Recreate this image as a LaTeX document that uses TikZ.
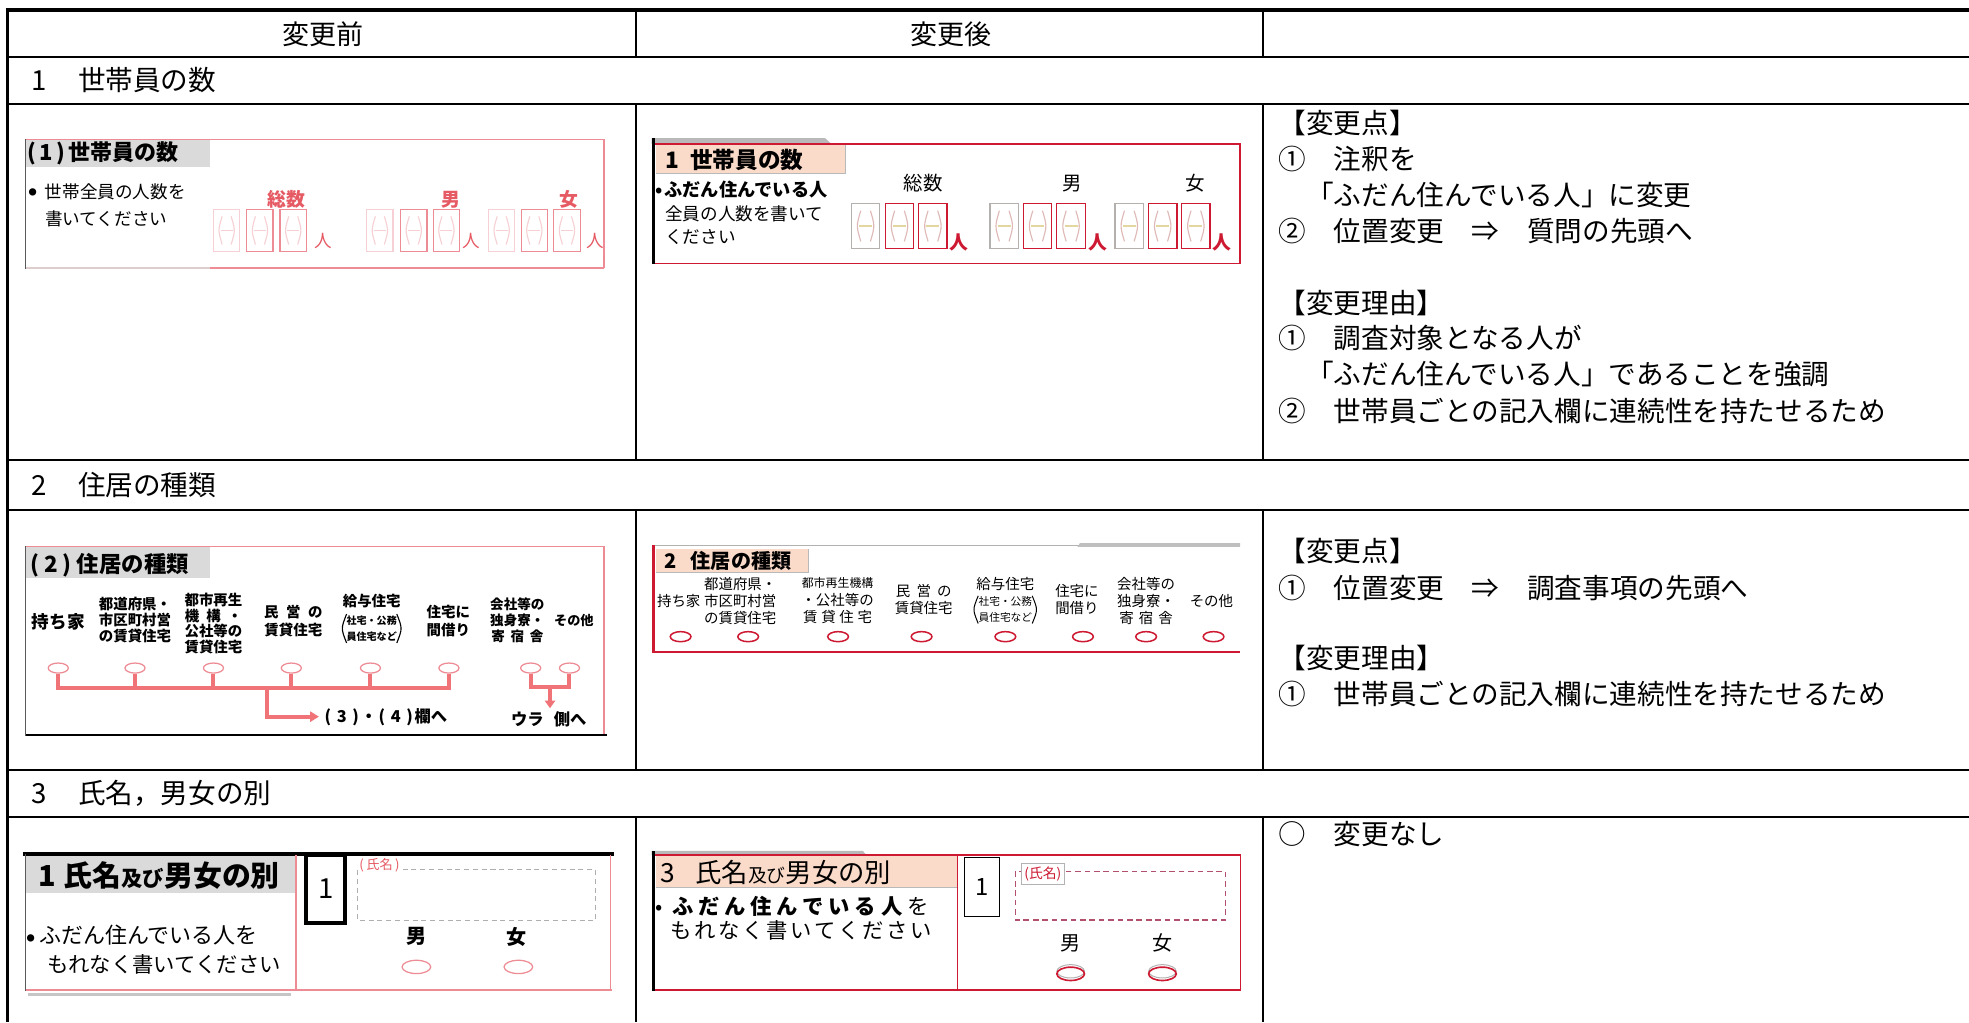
\documentclass[tikz,border=0pt]{standalone}
\usepackage{fontspec}
\setmainfont{Noto Sans CJK JP}
\usetikzlibrary{arrows.meta,shapes.geometric}
\definecolor{pkline}{RGB}{238,140,150}
\definecolor{pkdark}{RGB}{230,90,100}
\definecolor{pkconn}{RGB}{240,115,120}
\definecolor{pkfaint}{RGB}{246,208,212}
\definecolor{rdline}{RGB}{205,25,50}
\definecolor{peach}{RGB}{250,218,200}
\definecolor{hdgray}{RGB}{218,218,218}
\definecolor{boxgray}{RGB}{180,176,174}
\definecolor{glyphpk}{RGB}{222,185,182}
\definecolor{glyphyl}{RGB}{228,214,160}
\definecolor{mauve}{RGB}{178,80,110}
\definecolor{dashgray}{RGB}{175,175,175}
\definecolor{edgegray}{RGB}{90,90,90}
\definecolor{botgray}{RGB}{222,205,205}
\newcommand{\jfs}[1]{\fontsize{#1pt}{#1pt}\selectfont}
\newcommand{\hglyph}[7]{%
 \draw[#5, line width=#7] ({#1+0.33*#3},{#2+0.16*#4}) .. controls ({#1+0.17*#3},{#2+0.5*#4}) .. ({#1+0.33*#3},{#2+0.84*#4});
 \draw[#5, line width=#7] ({#1+0.67*#3},{#2+0.16*#4}) .. controls ({#1+0.83*#3},{#2+0.5*#4}) .. ({#1+0.67*#3},{#2+0.84*#4});
 \draw[#6, line width=#7] ({#1+0.27*#3},{#2+0.5*#4}) -- ({#1+0.73*#3},{#2+0.5*#4});}
\newcommand{\dbox}[7]{%
 \draw[#5, line width=1] (#1,#2) rectangle ++(#3,#4);
 \hglyph{#1}{#2}{#3}{#4}{#6}{#7}{0.9}}
\newcommand{\myls}[2]{\def\mylsgap{#1}\mylsaux#2\relax}
\def\mylsaux#1{\ifx#1\relax\else#1\hspace{\mylsgap}\expandafter\mylsaux\fi}
\newcommand{\bigdot}{\raisebox{2.3pt}{\jfs{6.5}●}}
\begin{document}
\begin{tikzpicture}[x=1pt,y=-1pt,every node/.style={inner sep=0pt},
  tbl/.style={line width=1.6pt},
  tblo/.style={line width=3pt},
  rtxt/.style={anchor=west,font=\jfs{22}},
  sect/.style={anchor=west,font=\jfs{22}},
  conn/.style={pkconn,line width=3.2pt},
  bov/.style={draw=pkline,ellipse,line width=1pt,minimum width=16pt,minimum height=8pt},
  aov/.style={draw=rdline,ellipse,line width=1.2pt,minimum width=16.5pt,minimum height=8pt},
  blab/.style={align=center,font=\bfseries\fontsize{11.5}{12.6}\selectfont},
  blabw/.style={align=center,font=\bfseries\fontsize{11.5}{14.5}\selectfont},
  alab/.style={align=center,font=\fontsize{11.5}{13.8}\selectfont},
  small/.style={align=center,font=\fontsize{8}{12.5}\selectfont}]
\useasboundingbox (0,0) rectangle (1568,814);
\fill[white] (0,0) rectangle (1568,814);

% ---------------- table grid
\foreach \yy in {45.4,82.8,366,406.1,613.2,650.6} \draw[tbl] (6,\yy) -- (1568,\yy);
\foreach \xx in {506.5,1005.5} {
  \draw[tbl] (\xx,8) -- (\xx,45.4);
  \draw[tbl] (\xx,82.8) -- (\xx,366);
  \draw[tbl] (\xx,406.1) -- (\xx,613.2);
  \draw[tbl] (\xx,650.6) -- (\xx,814);}
\draw[tblo] (4.5,8) -- (1568,8);
\draw[tblo] (6,6.5) -- (6,814);

% ---------------- header and section rows
\node[font=\jfs{21.5}] (h1) at (257,27) {変更前};
\node[font=\jfs{21.5}] (h2) at (757,27) {変更後};
\node[sect] (s1) at (25,64) {\makebox[37pt][l]{1}世帯員の数};
\node[sect] (s2) at (25,386.5) {\makebox[37pt][l]{2}住居の種類};
\node[sect] (s3) at (25,632) {\makebox[37pt][l]{3}氏名，男女の別};

% ---------------- right column texts
\node[rtxt] (r1a) at (1018,98) {【変更点】};
\node[rtxt] (r1b) at (1018,127) {①　注釈を};
\node[rtxt] (r1c) at (1018,155.5) {　「ふだん住んでいる人」に変更};
\node[rtxt] (r1d) at (1018,184) {②　位置変更　⇒　質問の先頭へ};
\node[rtxt] (r1e) at (1018,241) {【変更理由】};
\node[rtxt] (r1f) at (1018,269.5) {①　調査対象となる人が};
\node[rtxt] (r1g) at (1018,298) {　「ふだん住んでいる人」であることを強調};
\node[rtxt] (r1h) at (1018,327) {②　世帯員ごとの記入欄に連続性を持たせるため};
\node[rtxt] (r2a) at (1018,439) {【変更点】};
\node[rtxt] (r2b) at (1018,468) {①　位置変更　⇒　調査事項の先頭へ};
\node[rtxt] (r2c) at (1018,524) {【変更理由】};
\node[rtxt] (r2d) at (1018,552.5) {①　世帯員ごとの記入欄に連続性を持たせるため};
\node[rtxt] (r3a) at (1018,664.5) {○　変更なし};

% ================= ROW 1 BEFORE
\fill[hdgray] (21,111.5) rectangle (167,133);
\draw[pkline, line width=1] (20,111) -- (481,111) -- (481,213.5);
\draw[pkline, line width=1.5] (167,213.5) -- (481,213.5);
\draw[botgray, line width=2] (20,213.5) -- (167,213.5);
\draw[edgegray, line width=1.2] (20.5,110.5) -- (20.5,214);
\node[anchor=west,font=\bfseries\jfs{17.5}] (bt1) at (21.5,122.5) {(\hspace{3pt}1\hspace{3pt})\hspace{2pt}世帯員の数};
\node[anchor=west,font=\jfs{14}] (bn1a) at (22.6,153) {\makebox[13pt][l]{\bigdot}世帯全員の人数を};
\node[anchor=west,font=\jfs{14}] (bn1b) at (35.8,174) {書いてください};
\node[text=pkdark,font=\bfseries\jfs{15}] (bk1) at (228,159) {総数};
\node[text=pkdark,font=\bfseries\jfs{15}] (bk2) at (359,159) {男};
\node[text=pkdark,font=\bfseries\jfs{15}] (bk3) at (453,159) {女};
\foreach \bx/\bc in {170/pkfaint,196.5/pkline,223/pkline,292/pkfaint,319/pkline,345/pkline,389/pkfaint,415/pkline,441/pkline}
  {\dbox{\bx}{167}{21}{33}{\bc}{pkfaint}{pkfaint}}
\node[text=pkdark,font=\jfs{14}] (bp1) at (257.5,192) {人};
\node[text=pkdark,font=\jfs{14}] (bp2) at (375,192) {人};
\node[text=pkdark,font=\jfs{14}] (bp3) at (474,192) {人};

% ================= ROW 1 AFTER
\fill[gray!55] (519,110) -- (657,110) -- (662,114.5) -- (519,114.5) -- cycle;
\draw[rdline, line width=1.2] (520,114.5) rectangle (987.5,210);
\fill[peach] (522,115.5) rectangle (673,138);
\draw[gray!55, line width=0.6] (673,115.5) -- (673,138) -- (522,138);
\draw[black, line width=2.8] (520.5,110) -- (520.5,210.6);
\node[anchor=west,font=\bfseries\jfs{18}] (at1) at (528,127.2) {\makebox[21.5pt][l]{\hspace{2pt}1}世帯員の数};
\node[anchor=west,font=\bfseries\jfs{14.5}] (an1a) at (522,151.3) {\makebox[7pt][l]{•}ふだん住んでいる人};
\node[anchor=west,font=\jfs{14}] (an1b) at (529.6,170) {全員の人数を書いて};
\node[anchor=west,font=\jfs{14}] (an1c) at (529.6,188.5) {ください};
\node[font=\jfs{15.5}] (ak1) at (735.3,146) {総数};
\node[font=\jfs{15.5}] (ak2) at (853.5,146) {男};
\node[font=\jfs{15.5}] (ak3) at (952,146) {女};
\foreach \bx/\bc in {678/boxgray,705/rdline,731.6/rdline,788.4/boxgray,815/rdline,841.6/rdline,888/boxgray,914.6/rdline,941/rdline}
  {\dbox{\bx}{162}{22.6}{36}{\bc}{glyphpk}{glyphyl}}
\node[text=rdline,font=\bfseries\jfs{15}] (ap1) at (763.7,193) {人};
\node[text=rdline,font=\bfseries\jfs{15}] (ap2) at (874,193) {人};
\node[text=rdline,font=\bfseries\jfs{15}] (ap3) at (973,193) {人};

% ================= ROW 2 BEFORE
\fill[hdgray] (21,435.9) rectangle (167,460);
\draw[pkline, line width=1] (20,435.4) -- (481,435.4) -- (481,585.3);
\draw[black, line width=1.5] (20,585.3) -- (483,585.3);
\draw[edgegray, line width=1.2] (20.5,435) -- (20.5,586);
\node[anchor=west,font=\bfseries\jfs{17.8}] (bt2) at (24,450) {(\hspace{4pt}2\hspace{4pt})\hspace{4pt}住居の種類};
\node[font=\bfseries\jfs{14}] (bl1) at (46.4,495) {持ち家};
\node[blab] (bl2) at (107.5,494) {都道府県・\\市区町村営\\の賃貸住宅};
\node[blab,font=\bfseries\fontsize{11.5}{12.3}\selectfont] (bl3) at (170,496.5) {都市再生\\機\hspace{5.5pt}構\hspace{5.5pt}・\\公社等の\\賃貸住宅};
\node[blabw] (bl4) at (233.6,494.5) {民\hspace{6pt}営\hspace{6pt}の\\賃貸住宅};
\node[font=\bfseries\jfs{11.5}] (bl5) at (296,479) {給与住宅};
\node[small,font=\bfseries\fontsize{8}{12.5}\selectfont] (bl5b) at (296,500.5) {社宅・公務\\員住宅など};
\draw[black, line width=0.9] (276,489) .. controls (271.5,500.5) .. (276,512);
\draw[black, line width=0.9] (316,489) .. controls (320.5,500.5) .. (316,512);
\node[blabw] (bl6) at (357,494.5) {住宅に\\間借り};
\node[blab,font=\bfseries\fontsize{10.8}{12.6}\selectfont] (bl7) at (412,494) {会社等の\\独身寮・\\寄\hspace{4.5pt}宿\hspace{4.5pt}舎};
\node[font=\bfseries\jfs{10.5}] (bl8) at (457,494) {その他};
\node[bov] (bo1) at (46.4,532) {};
\node[bov] (bo2) at (107.5,532) {};
\node[bov] (bo3) at (170,532) {};
\node[bov] (bo4) at (232,532) {};
\node[bov] (bo5) at (295,532) {};
\node[bov] (bo6) at (357.5,532) {};
\node[bov] (bo7) at (422.6,532) {};
\node[bov] (bo8) at (453.5,532) {};
\coordinate (barL) at (46.4,548);
\coordinate (barM) at (212.4,548);
\coordinate (ar1) at (254,570.7);
\coordinate (barR) at (438,547);
\coordinate (ar2) at (438,564);
\draw[conn] (bo1.south) -- (bo1.south |- barL) -- (bo6.south |- barL) -- (bo6.south);
\foreach \o in {bo2,bo3,bo4,bo5} \draw[conn] (\o.south) -- (\o.south |- barL);
\draw[conn,-{Triangle[length=7pt,width=8pt]}] (barM) |- (ar1);
\draw[conn] (bo7.south) -- (bo7.south |- barR) -- (bo8.south |- barR) -- (bo8.south);
\draw[conn,-{Triangle[length=6pt,width=8pt]}] (barR) -- (ar2);
\node[anchor=west,font=\bfseries\jfs{13}] (bt3) at (257,571.5) {\makebox[30pt]{(\hspace{4.5pt}3\hspace{4.5pt})}・\makebox[30pt]{(\hspace{4.5pt}4\hspace{4.5pt})}欄へ};
\node[font=\bfseries\jfs{13}] (bt4) at (437,573) {ウラ\hspace{8pt}側へ};

% ================= ROW 2 AFTER
\draw[gray!60, line width=0.8] (520,434.5) -- (862,434.5);
\fill[gray!50] (860,432.5) -- (987.5,432.5) -- (987.5,435.5) -- (858,435.5) -- cycle;
\draw[rdline, line width=2] (520.5,434) -- (520.5,520.4);
\draw[rdline, line width=1.8] (520,519.5) -- (987.5,519.5);
\fill[peach] (522,437.5) rectangle (644,456);
\draw[gray!55, line width=0.6] (644,437.5) -- (644,456) -- (522,456);
\node[anchor=west,font=\bfseries\jfs{16}] (at2) at (529,447) {\makebox[21pt][l]{2}住居の種類};
\node[font=\jfs{11.5}] (al1) at (540.5,479) {持ち家};
\node[alab] (al2) at (589.5,478.5) {都道府県・\\市区町村営\\の賃貸住宅};
\node[alab] (al3) at (667,478.5) {{\fontsize{9.5}{13.8}\selectfont 都市再生機構}\\・公社等の\\賃\hspace{3pt}貸\hspace{3pt}住\hspace{3pt}宅};
\node[alab] (al4) at (735.6,477.5) {民\hspace{5pt}営\hspace{5pt}の\\賃貸住宅};
\node[font=\jfs{11.5}] (al5) at (800.6,465) {給与住宅};
\node[small,font=\fontsize{8.5}{12.5}\selectfont] (al5b) at (800.6,485.5) {社宅・公務\\員住宅など};
\draw[black, line width=0.8] (779,474.5) .. controls (774.5,485.5) .. (779,496.5);
\draw[black, line width=0.8] (822,474.5) .. controls (826.5,485.5) .. (822,496.5);
\node[alab] (al6) at (857.6,477.5) {住宅に\\間借り};
\node[alab] (al7) at (912.7,478.5) {会社等の\\独身寮・\\寄\hspace{4pt}宿\hspace{4pt}舎};
\node[font=\jfs{11.5}] (al8) at (964.7,479) {その他};
\foreach \i/\ox in {1/542,2/595.8,3/667.4,4/733.9,5/800.6,6/862.4,7/912.7,8/966.4}
  \node[aov] (ao\i) at (\ox,507) {};

% ================= ROW 3 BEFORE
\fill[hdgray] (21,682) rectangle (235.5,711);
\draw[black, line width=2.8] (18,680) -- (489,680);
\draw[pkline, line width=1] (235.7,681) -- (235.7,788.4);
\draw[pkline, line width=1] (486,681) -- (486,788.4);
\draw[pkline, line width=1.2] (20,788.4) -- (487,788.4);
\draw[edgegray, line width=1.2] (20.5,680) -- (20.5,789);
\fill[gray!45] (22,790.5) rectangle (232,793.5);
\node[anchor=west,font=\bfseries\jfs{23}] (bt5) at (27.6,697) {\makebox[23pt][l]{\hspace{3pt}1}氏名{\jfs{17}及び}男女の別};
\node[anchor=west,font=\jfs{17.5}] (bn3a) at (21,745) {\makebox[10pt][l]{\bigdot}ふだん住んでいる人を};
\node[anchor=west,font=\jfs{17}] (bn3b) at (37.4,768) {もれなく書いてください};
\draw[black, line width=3] (243.8,681) rectangle (274.6,735.3);
\node[font=\jfs{22}] (bno) at (259.5,708) {1};
\draw[dashgray, line width=0.8, dash pattern=on 4pt off 3pt] (284.4,692.8) rectangle (474.6,732.7);
\node[anchor=west,fill=white,inner sep=1pt,text=pkdark,font=\jfs{10.5}] (bnm) at (285,689) {(\hspace{2pt}氏名\hspace{2pt})};
\node[font=\bfseries\jfs{16}] (bs1) at (331.5,746) {男};
\node[font=\bfseries\jfs{16}] (bs2) at (411.2,746) {女};
\node[draw=pkline,ellipse,line width=1pt,minimum width=22.8pt,minimum height=10.6pt] (bso1) at (331.6,770) {};
\node[draw=pkline,ellipse,line width=1pt,minimum width=22.8pt,minimum height=10.6pt] (bso2) at (412.8,770) {};

% ================= ROW 3 AFTER
\fill[gray!55] (519,677.5) -- (687,677.5) -- (690,681) -- (519,681) -- cycle;
\fill[peach] (522,682) rectangle (762,706.5);
\draw[gray!55, line width=0.6] (522,706.5) -- (762,706.5);
\draw[rdline, line width=1.2] (520,681) rectangle (762.6,788.4);
\draw[rdline, line width=1.2] (762.6,681) rectangle (987.7,788.4);
\draw[black, line width=2.8] (520.5,678) -- (520.5,789);
\node[anchor=west,font=\jfs{21}] (at3) at (526,695) {\makebox[27.5pt][l]{3}氏名{\jfs{15}及び}男女の別};
\node[anchor=west,font=\jfs{17}] (an3a) at (522,722) {\makebox[13pt][l]{•}{\bfseries\myls{3.8pt}{ふだん住んでいる人}}\myls{3.8pt}{を}};
\node[anchor=west,font=\jfs{17}] (an3b) at (534,741) {\myls{2.1pt}{もれなく書いてください}};
\draw[black, line width=1] (768,683) rectangle (795.7,730);
\node[font=\jfs{19}] (ano) at (781.8,706) {1};
\draw[mauve, line width=1.1, dash pattern=on 4.5pt off 3pt] (808.7,694) rectangle (976,732.7);
\node[draw=gray!60,line width=0.5,fill=white,inner sep=2.5pt,text=rdline,font=\jfs{11}] (anm) at (830.5,696) {(氏名)};
\node[font=\jfs{16}] (as1) at (852.6,751) {男};
\node[font=\jfs{16}] (as2) at (925.7,751) {女};
\draw[gray!60, line width=0.8] (852.6,773.5) ellipse [x radius=11pt, y radius=5.3pt];
\draw[gray!60, line width=0.8] (925.7,773.5) ellipse [x radius=11pt, y radius=5.3pt];
\node[draw=rdline,ellipse,line width=1.3pt,minimum width=22pt,minimum height=10.6pt] (aso1) at (852.6,775.5) {};
\node[draw=rdline,ellipse,line width=1.3pt,minimum width=22pt,minimum height=10.6pt] (aso2) at (925.7,775.5) {};
\end{tikzpicture}
\end{document}
